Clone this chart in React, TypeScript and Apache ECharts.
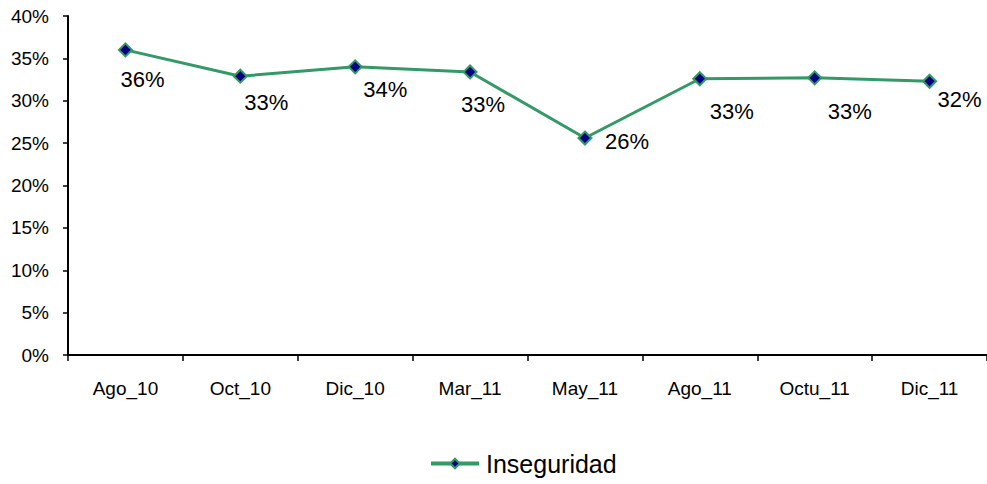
import React, { useEffect, useRef } from "react";
import * as echarts from "echarts";

const categories = ["Ago_10", "Oct_10", "Dic_10", "Mar_11", "May_11", "Ago_11", "Octu_11", "Dic_11"];
const inseguridad = [36.0, 32.9, 34.0, 33.4, 25.6, 32.6, 32.7, 32.3];
const yTicks = { min: 0, max: 40, interval: 5 };
const labelOffsets: [number, number][] = [
  [17, 30], [26, 26], [30, 23], [13, 33], [42, 3], [32, 33], [35, 34], [30, 18],
];

const FONT = "'Liberation Sans', Arial, sans-serif";

export default function App() {
  const ref = useRef<HTMLDivElement>(null);
  useEffect(() => {
    if (!ref.current) return;
    const chart = echarts.init(ref.current, null, { renderer: "svg" });
    chart.setOption({
      animation: false,
      backgroundColor: "#ffffff",
      textStyle: { fontFamily: FONT, color: "#000" },
      grid: { left: 68, right: 0, top: 16, bottom: 129, containLabel: false },
      legend: {
        bottom: 3,
        left: 424,
        itemWidth: 48,
        itemHeight: 12,
        itemGap: 4,
        lineStyle: { width: 4 },
        textStyle: { fontFamily: FONT, fontSize: 25, color: "#000", padding: [0, 0, 0, 2] },
        data: ["Inseguridad"],
      },
      xAxis: {
        type: "category",
        data: categories,
        boundaryGap: true,
        axisLine: { lineStyle: { color: "#000", width: 2 } },
        axisTick: { show: true, length: 6, inside: false, lineStyle: { color: "#000", width: 1.5 } },
        axisLabel: { fontFamily: FONT, fontSize: 19, color: "#000", margin: 24 },
        splitLine: { show: false },
      },
      yAxis: {
        type: "value",
        min: yTicks.min,
        max: yTicks.max,
        interval: yTicks.interval,
        axisLine: { show: true, lineStyle: { color: "#000", width: 2 } },
        axisTick: { show: true, length: 5, lineStyle: { color: "#000", width: 1.5 } },
        axisLabel: { fontFamily: FONT, fontSize: 19, color: "#000", margin: 19, formatter: "{value}%" },
        splitLine: { show: false },
      },
      series: [
        {
          name: "Inseguridad",
          type: "line",
          data: inseguridad.map((v, i) => ({
            value: v,
            label: { offset: labelOffsets[i] },
          })),
          symbol: "diamond",
          symbolSize: 13,
          lineStyle: { color: "#339966", width: 3 },
          itemStyle: { color: "#000080", borderColor: "#339966", borderWidth: 2 },
          label: {
            show: true,
            position: "inside",
            fontFamily: FONT,
            fontSize: 22,
            color: "#000",
            formatter: (p: any) => Math.round(p.value) + "%",
          },
        },
      ],
    });
    return () => chart.dispose();
  }, []);
  return (
    <div
      ref={ref}
      style={{ position: "absolute", left: 0, top: 0, width: 987, height: 484 }}
    />
  );
}
